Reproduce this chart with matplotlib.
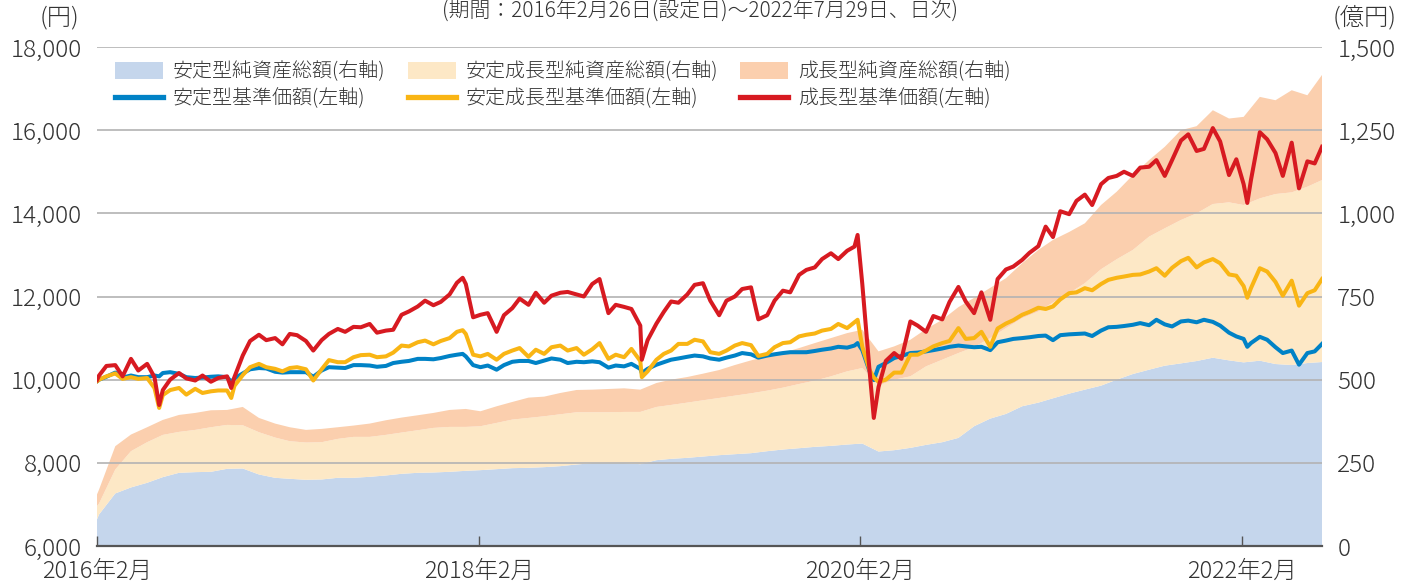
import matplotlib
matplotlib.use("Agg")
import matplotlib.pyplot as plt
from matplotlib.patches import Patch
from matplotlib.lines import Line2D
import pandas as pd

plt.rcParams['font.family'] = ['Noto Sans CJK JP', 'DejaVu Sans']
plt.rcParams['font.weight'] = 'light'

# ---------------- data ----------------
START = '2016-02-26'
END = '2022-07-29'
LINE_EXTRA_DATES = ['2016-02-26', '2016-06-24', '2016-11-09', '2018-01-26', '2019-01-04',
                    '2020-02-21', '2020-03-23', '2022-03-08', '2022-07-29']

# 基準価額 (円) at semi-monthly points (+ extra dates above)
NAV_STABLE = [  # 安定型
    9960, 10000, 10070, 10170, 10050, 10100, 10060, 10060, 10100, 10080, 10160, 10180, 10140, 10060, 10040, 10050, 10070, 10080, 10060, 9950, 10030, 10150, 10250,
    10280, 10270, 10190, 10170, 10180, 10180, 10180, 10070, 10220, 10300, 10290, 10280, 10350, 10350, 10340, 10310, 10330, 10400, 10430, 10450, 10500, 10500, 10490, 10520,
    10570, 10600, 10620, 10560, 10350, 10300, 10340, 10240, 10350, 10430, 10450, 10450, 10400, 10460, 10510, 10480, 10400, 10430, 10420, 10440, 10420, 10290, 10340, 10320, 10380,
    10260, 10160, 10260, 10360, 10420, 10480, 10510, 10550, 10580, 10560, 10510, 10480, 10530, 10580, 10640, 10610, 10530, 10580, 10610, 10640, 10660, 10660, 10660, 10690, 10720,
    10750, 10790, 10770, 10820, 10880, 10710, 10200, 9990, 10310, 10400, 10520, 10570, 10640, 10650, 10680, 10710, 10750, 10790, 10820, 10800, 10780, 10790, 10710, 10900, 10940, 10980,
    11000, 11020, 11050, 11060, 10950, 11070, 11090, 11100, 11110, 11050, 11180, 11260, 11270, 11290, 11320, 11360, 11310, 11440, 11330, 11280, 11400, 11420, 11380, 11440,
    11390, 11300, 11130, 11040, 10980, 10790, 10880, 11030, 10960, 10780, 10640, 10700, 10360, 10640, 10680, 10860,
]
NAV_BALANCED = [  # 安定成長型
    9960, 10000, 10080, 10150, 10020, 10060, 10020, 10040, 9800, 9320, 9630, 9750, 9800, 9640, 9780, 9680, 9720, 9740, 9740, 9560, 9850, 10110, 10300,
    10380, 10300, 10260, 10200, 10280, 10300, 10250, 9980, 10250, 10470, 10420, 10420, 10540, 10590, 10600, 10540, 10560, 10650, 10820, 10800, 10900, 10940, 10850, 10930,
    11000, 11150, 11190, 11100, 10600, 10560, 10620, 10480, 10620, 10700, 10760, 10550, 10720, 10620, 10780, 10820, 10700, 10760, 10600, 10730, 10880, 10500, 10600, 10540, 10740,
    10450, 10060, 10200, 10480, 10620, 10700, 10860, 10860, 10960, 10920, 10660, 10620, 10700, 10820, 10880, 10830, 10570, 10620, 10780, 10880, 10900, 11040, 11080, 11110, 11180,
    11220, 11340, 11240, 11380, 11440, 10790, 10230, 10050, 9950, 10000, 10170, 10170, 10600, 10600, 10700, 10800, 10880, 10930, 11240, 10980, 11000, 11150, 10790, 11230, 11350, 11430,
    11560, 11630, 11730, 11700, 11760, 11930, 12080, 12100, 12200, 12150, 12300, 12400, 12450, 12480, 12520, 12530, 12600, 12680, 12500, 12690, 12850, 12930, 12700, 12820,
    12900, 12800, 12530, 12500, 12250, 11970, 12200, 12680, 12600, 12350, 12020, 12380, 11780, 12080, 12150, 12420,
]
NAV_GROWTH = [  # 成長型
    9990, 10100, 10330, 10350, 10080, 10500, 10220, 10380, 10060, 9390, 9750, 10000, 10160, 10030, 9980, 10100, 9950, 10040, 10080, 9800, 10060, 10580, 10930,
    11080, 10950, 11000, 10850, 11100, 11070, 10930, 10700, 10950, 11100, 11220, 11150, 11270, 11260, 11340, 11130, 11180, 11200, 11560, 11640, 11760, 11900, 11790, 11870,
    12050, 12330, 12450, 12300, 11500, 11560, 11600, 11150, 11550, 11720, 11950, 11800, 12090, 11850, 12020, 12090, 12110, 12050, 12000, 12300, 12420, 11600, 11800, 11750, 11700,
    11300, 10480, 10950, 11350, 11630, 11880, 11850, 12050, 12280, 12320, 11900, 11550, 11900, 12000, 12180, 12220, 11450, 11550, 11900, 12140, 12100, 12520, 12640, 12700, 12900,
    13040, 12900, 13100, 13200, 13480, 12300, 10200, 9080, 9820, 10450, 10640, 10500, 11400, 11300, 11150, 11530, 11450, 11870, 12230, 11880, 11600, 12100, 11440, 12420, 12650, 12720,
    12880, 13050, 13210, 13680, 13430, 14050, 13980, 14300, 14450, 14200, 14700, 14850, 14900, 15000, 14900, 15100, 15120, 15280, 14900, 15280, 15750, 15900, 15500, 15550,
    16050, 15730, 14920, 15300, 14700, 14250, 14800, 15950, 15780, 15450, 14900, 15700, 14600, 15250, 15200, 15600,
]

# 純資産総額 (億円), monthly
AUM_STABLE = [
    80, 95, 158, 176, 190, 207, 220, 222, 223, 232, 233,
    215, 205, 202, 199, 200, 205, 205, 208, 212, 217, 220, 221,
    223, 226, 228, 231, 234, 235, 237, 240, 245, 249, 249, 249,
    246, 258, 262, 265, 269, 273, 276, 279, 285, 290, 294, 298,
    301, 305, 308, 284, 288, 295, 304, 312, 325, 360, 383, 397,
    420, 431, 444, 458, 470, 482, 500, 517, 530, 542, 549, 556,
    566, 558, 552, 557, 547, 544, 550, 553,
]
AUM_BALANCED = [
    40, 33, 72, 109, 122, 127, 123, 127, 134, 132, 130,
    127, 121, 113, 112, 112, 117, 123, 120, 122, 124, 128, 134,
    135, 132, 132, 139, 146, 150, 153, 156, 157, 153, 153, 154,
    157, 160, 162, 166, 169, 172, 176, 180, 182, 186, 193, 199,
    209, 220, 227, 198, 212, 215, 236, 248, 255, 238, 242, 258,
    265, 274, 288, 302, 320, 350, 362, 373, 400, 413, 431, 444,
    462, 475, 473, 488, 511, 519, 530, 547,
]
AUM_GROWTH = [
    35, 42, 70, 50, 45, 45, 51, 51, 51, 45, 55,
    43, 42, 42, 38, 40, 35, 34, 40, 44, 45, 45, 45,
    51, 54, 45, 50, 53, 61, 59, 64, 67, 68, 70, 71,
    67, 72, 76, 77, 80, 84, 92, 99, 103, 105, 108, 113,
    115, 115, 115, 103, 100, 110, 112, 120, 138, 148, 151, 150,
    165, 185, 188, 184, 180, 193, 203, 225, 230, 245, 270, 262,
    282, 252, 265, 305, 282, 307, 275, 316,
]

LEFT_TICKS = [6000, 8000, 10000, 12000, 14000, 16000, 18000]
RIGHT_TICKS = [0, 250, 500, 750, 1000, 1250, 1500]
X_TICK_DATES = ['2016-02-26', '2018-02-26', '2020-02-26', '2022-02-26']
X_TICK_LABELS = ['2016年2月', '2018年2月', '2020年2月', '2022年2月']

LABELS_AREA = ['安定型純資産総額(右軸)', '安定成長型純資産総額(右軸)', '成長型純資産総額(右軸)']
LABELS_LINE = ['安定型基準価額(左軸)', '安定成長型基準価額(左軸)', '成長型基準価額(左軸)']

# ---------------- dates ----------------
grid = pd.date_range('2016-03-01', '2022-07-15', freq='SMS')
line_dates = pd.DatetimeIndex(sorted(list(grid) + [pd.Timestamp(d) for d in LINE_EXTRA_DATES]))
area_dates = pd.DatetimeIndex([pd.Timestamp(START)] + list(pd.date_range('2016-03-01', '2022-07-01', freq='MS')) + [pd.Timestamp(END)])

for name, s in [('st', NAV_STABLE), ('ba', NAV_BALANCED), ('gr', NAV_GROWTH)]:
    assert len(s) == len(line_dates), (name, len(s), len(line_dates))
for name, s in [('st', AUM_STABLE), ('ba', AUM_BALANCED), ('gr', AUM_GROWTH)]:
    assert len(s) == len(area_dates), (name, len(s), len(area_dates))

# ---------------- styles ----------------
C_AREA = ['#c5d6ec', '#fde8c6', '#fbcfae']
C_LINE = ['#0082c6', '#f9b514', '#d71a21']
TXT = '#333333'
FS = 17.5

W, H = 1411, 587
fig = plt.figure(figsize=(W / 100, H / 100), dpi=100)
L, R, T, B = 97, 1322, 47, 546
ax = fig.add_axes([L / W, 1 - B / H, (R - L) / W, (B - T) / H])

ax.stackplot(area_dates, AUM_STABLE, AUM_BALANCED, AUM_GROWTH, colors=C_AREA, linewidth=0, zorder=1)
ax.set_ylim(0, 1500)
ax.set_xlim(pd.Timestamp(START), pd.Timestamp(END))
ax.set_axisbelow(False)
ax.grid(axis='y', color='#b3b3b3', linewidth=1.2, zorder=2)
ax.grid(axis='x', visible=False)

ax2 = ax.twinx()
for vals, c in zip([NAV_STABLE, NAV_BALANCED, NAV_GROWTH], C_LINE):
    ax2.plot(line_dates, vals, color=c, linewidth=2.9, solid_joinstyle='round', zorder=3)
ax2.set_ylim(6000, 18000)
ax2.set_xlim(pd.Timestamp(START), pd.Timestamp(END))

ax.yaxis.tick_right()
ax2.yaxis.tick_left()
ax.set_yticks(RIGHT_TICKS)
ax.set_yticklabels([f'{v:,}' for v in RIGHT_TICKS])
ax2.set_yticks(LEFT_TICKS)
ax2.set_yticklabels([f'{v:,}' for v in LEFT_TICKS])
ax.tick_params(axis='y', length=0, pad=11, labelsize=FS, labelcolor=TXT)
ax2.tick_params(axis='y', length=0, pad=11, labelsize=FS, labelcolor=TXT)
for lab in ax.get_yticklabels():
    lab.set_horizontalalignment('left')

ax.set_xticks([pd.Timestamp(d) for d in X_TICK_DATES])
ax.set_xticklabels(X_TICK_LABELS)
ax.tick_params(axis='x', direction='in', length=7, width=1.0, color='#555555', pad=9,
               labelsize=17, labelcolor=TXT)

for a in (ax, ax2):
    for sp in ('left', 'right', 'top'):
        a.spines[sp].set_visible(False)
ax2.spines['bottom'].set_visible(False)
ax.spines['bottom'].set_color('#555555')
ax.spines['bottom'].set_linewidth(1.6)
ax.spines['bottom'].set_zorder(5)

handles = []
for i in range(3):
    handles.append(Patch(facecolor=C_AREA[i], edgecolor='none', label=LABELS_AREA[i]))
    handles.append(Line2D([], [], color=C_LINE[i], linewidth=3.8, label=LABELS_LINE[i]))
leg = ax2.legend(handles=handles, ncol=3, loc='upper left', bbox_to_anchor=(0.005, 0.995),
                 frameon=False, fontsize=14.4, handlelength=2.4, handleheight=0.9,
                 handletextpad=0.5, columnspacing=1.1, labelspacing=0.3, borderaxespad=0.2)
for t in leg.get_texts():
    t.set_color(TXT)

fig.text(700 / W, 1 - 12 / H, '(期間：2016年2月26日(設定日)～2022年7月29日、日次)',
         ha='center', va='center', fontsize=15, color=TXT)
fig.text(60 / W, 1 - 18 / H, '(円)', ha='center', va='center', fontsize=FS, color=TXT)
fig.text(1365 / W, 1 - 18 / H, '(億円)', ha='center', va='center', fontsize=FS, color=TXT)

fig.savefig('out.png', dpi=100)
